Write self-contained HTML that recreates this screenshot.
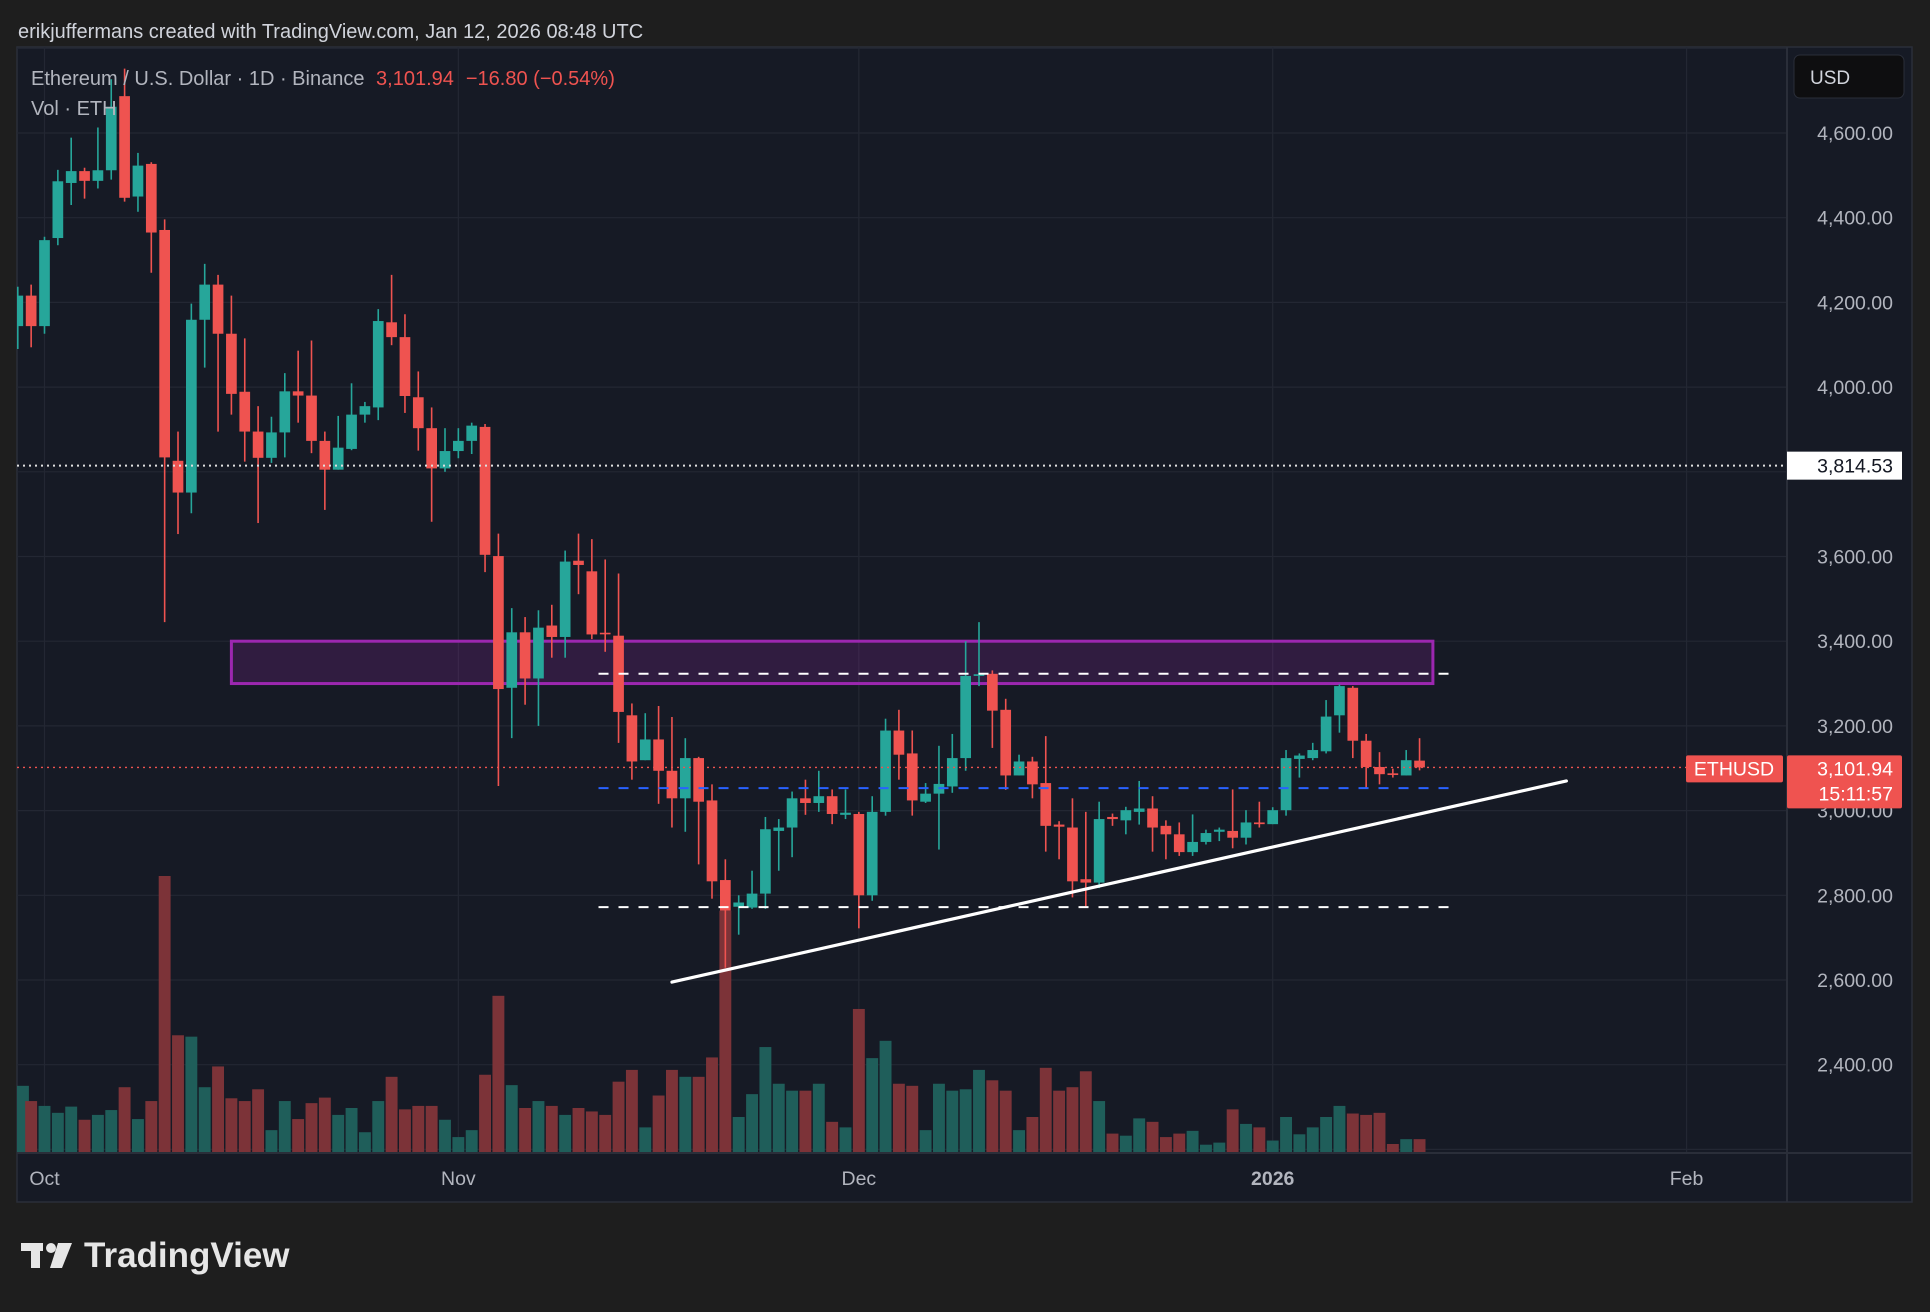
<!DOCTYPE html>
<html><head><meta charset="utf-8"><style>
html,body{margin:0;padding:0;background:#1e1e1e;}
body{width:1930px;height:1307px;overflow:hidden;font-family:"Liberation Sans",sans-serif;}
svg text{font-family:"Liberation Sans",sans-serif;}
</style></head><body>
<svg id="chart" width="1930" height="1307" xmlns="http://www.w3.org/2000/svg">
<rect x="0" y="0" width="1930" height="1307" fill="#1e1e1e"/>
<text x="18" y="38" font-size="20" fill="#d1d4dc">erikjuffermans created with TradingView.com, Jan 12, 2026 08:48 UTC</text>
<rect x="17" y="47" width="1895" height="1155" fill="#161a25" stroke="#2a2e39" stroke-width="1.5"/>
<g id="grid"></g>
<g id="vol"></g>
<g id="overlays-back"></g>
<g id="candles"></g>
<g id="overlays"></g>
<line x1="1787" y1="47" x2="1787" y2="1202" stroke="#2a2e39" stroke-width="2"/>
<line x1="17" y1="1153" x2="1912" y2="1153" stroke="#2a2e39" stroke-width="2"/>
<g id="yaxis"></g>
<g id="xaxis"></g>
<text x="31" y="85" font-size="20" fill="#b2b5be">Ethereum / U.S. Dollar · 1D · Binance <tspan fill="#ef5350" dx="6">3,101.94</tspan><tspan fill="#ef5350" dx="12">−16.80 (−0.54%)</tspan></text>
<text x="31" y="115" font-size="20" fill="#b2b5be">Vol · ETH</text>
<rect x="1794" y="55" width="110" height="43" rx="6" fill="#0e0e10" stroke="#2a2e39"/>
<text x="1810" y="84" font-size="19" fill="#d1d4dc">USD</text>
<g>
<rect x="21" y="1243" width="22" height="8" fill="#e6e6e6"/>
<rect x="31" y="1243" width="9" height="25" fill="#e6e6e6"/>
<circle cx="51" cy="1248" r="5" fill="#e6e6e6"/>
<polygon points="58,1243 72,1243 62,1268 50,1268" fill="#e6e6e6"/>
<text x="84" y="1267" font-size="35" font-weight="bold" fill="#e6e6e6">TradingView</text>
</g>
</svg>
<script>
const opens=[4144,4216,4144,4352,4482,4510,4487,4512,4687,4450,4527,4371,3826,3751,4159,4242,4126,3989,3895,3833,3893,3990,3980,3873,3805,3854,3935,3952,4153,4118,3976,3903,3808,3849,3873,3906,3601,3290,3421,3312,3437,3410,3590,3565,3420,3413,3225,3119,3168,3094,3029,3124,3024,2836,2773,2771,2804,2952,2960,3029,3018,3034,2990,2992,2800,2997,3189,3135,3021,3040,3057,3124,3318,3323,3238,3083,3116,3065,2967,2960,2838,2830,2985,2977,2997,3005,2964,2944,2902,2926,2950,2952,2936,2972,2968,3001,3122,3124,3140,3225,3290,3165,3103,3088,3083,3118];
const highs=[4237,4242,4355,4513,4589,4518,4613,4727,4752,4553,4531,4396,3895,4197,4291,4265,4216,4115,3955,3930,4033,4086,4110,3895,3932,4009,3965,4184,4265,4172,4037,3952,3903,3903,3916,3913,3654,3478,3457,3473,3486,3614,3654,3641,3593,3560,3253,3230,3247,3221,3171,3127,3062,2885,2800,2858,2985,2980,3045,3073,3094,3050,3050,2997,3034,3217,3238,3189,3065,3153,3181,3400,3445,3331,3264,3132,3127,3176,2975,3029,2997,3021,2993,3009,3070,3034,2977,2972,2991,2955,2960,3050,3001,3021,3008,3143,3135,3160,3261,3298,3294,3181,3138,3099,3143,3171];
const lows=[4090,4094,4126,4335,4430,4445,4469,4490,4438,4414,4270,3445,3653,3702,4046,3895,3935,3824,3679,3821,3834,3916,3844,3710,3805,3851,3916,3922,4099,3939,3850,3682,3800,3832,3842,3563,3058,3171,3250,3200,3361,3361,3511,3405,3375,3160,3073,3119,3016,2960,2950,2873,2792,2629,2707,2768,2768,2858,2890,2990,2997,2968,2980,2722,2787,2988,3073,2988,3018,2908,3042,3094,3294,3148,3049,3083,3029,2903,2885,2795,2774,2817,2964,2944,2967,2903,2885,2893,2893,2920,2928,2911,2920,2960,2968,2988,3078,3119,3135,3184,3124,3054,3062,3078,3083,3095];
const closes=[4216,4144,4347,4486,4510,4487,4512,4662,4447,4523,4365,3834,3751,4159,4242,4126,3984,3895,3833,3893,3990,3980,3873,3805,3857,3935,3955,4156,4118,3979,3903,3808,3849,3873,3909,3604,3287,3421,3312,3432,3410,3588,3580,3416,3418,3233,3116,3168,3094,3029,3124,3021,2833,2764,2783,2804,2956,2960,3029,3018,3034,2992,2995,2800,2997,3189,3132,3024,3040,3063,3124,3318,3322,3236,3083,3116,3062,2964,2962,2833,2830,2980,2980,3001,3005,2960,2944,2902,2926,2947,2955,2936,2972,2968,3001,3124,3130,3143,3222,3294,3165,3103,3086,3084,3119,3102];
const volumes=[97,75,68,58,67,48,55,62,95,49,75,400,170,168,95,125,79,75,92,33,75,49,72,80,55,65,30,75,110,63,68,68,48,23,33,113,227,98,65,75,68,55,65,60,55,103,120,37,83,120,110,110,138,350,52,85,153,100,90,90,100,45,37,208,137,162,100,97,33,100,90,92,120,105,90,33,52,123,90,95,118,75,28,25,50,45,23,28,32,12,15,63,42,37,18,52,27,37,52,68,57,55,58,13,20,20];
const priceTicks=[4600,4400,4200,4000,3600,3400,3200,3000,2800,2600,2400];
const priceTickLabels=["4,600.00","4,400.00","4,200.00","4,000.00","3,600.00","3,400.00","3,200.00","3,000.00","2,800.00","2,600.00","2,400.00"];
const monthDays=[0,31,61,92,123];
const monthLabels=["Oct","Nov","Dec","2026","Feb"];
const firstDay=-2;
const lastPrice=3101.94, markedPrice=3814.53;
const zoneTop=3400, zoneBottom=3300, zoneStartDay=14, zoneEndDay=104;
const levelUpper=3323, levelMid=3053, levelLower=2772, levelStartDay=41.5, levelEndDay=105.8;
const trendStart=[47,2595], trendEnd=[114,3070];

const NS="http://www.w3.org/2000/svg";
const X=d=>44.5+13.35*d;
const Y=p=>133+(4600-p)/200*84.7;
const VY=v=>1153-v*0.6925;
const L=17,R=1787;
function mk(tag,attrs,parent){const e=document.createElementNS(NS,tag);for(const k in attrs)e.setAttribute(k,attrs[k]);parent.appendChild(e);return e;}
const grid=document.getElementById('grid'),vol=document.getElementById('vol'),cg=document.getElementById('candles'),ov=document.getElementById('overlays'),ob=document.getElementById('overlays-back'),ya=document.getElementById('yaxis'),xa=document.getElementById('xaxis');
for(let p=4800;p>=2200;p-=200){const y=Y(p);if(y<47||y>1153)continue;const g=mk('line',{x1:L,x2:R,y1:y,y2:y,stroke:'#232733','stroke-width':1.2},grid);}
monthDays.forEach(d=>{const g=mk('line',{x1:X(d),x2:X(d),y1:47,y2:1153,stroke:'#232733','stroke-width':1.2},grid);});
priceTicks.forEach((p,i)=>{const t=mk('text',{x:1893,y:Y(p)+7,'font-size':19.5,fill:'#b2b5be','text-anchor':'end'},ya);t.textContent=priceTickLabels[i];});
monthDays.forEach((d,i)=>{const t=mk('text',{x:X(d),y:1185,'font-size':19.5,fill:'#b2b5be','text-anchor':'middle','font-weight':monthLabels[i]==='2026'?'bold':'normal'},xa);t.textContent=monthLabels[i];});
const W=10.7;
volumes.forEach((v,i)=>{const x=X(firstDay+i);const up=closes[i]>=opens[i];const y=VY(v);const r=mk('rect',{x:Math.max(L,x-W/2-0.6),y:y,width:W+1.2,height:1153-y,fill:up?'#1f5e5a':'#7c3338'},vol);});
const z=mk('rect',{x:X(zoneStartDay),y:Y(zoneTop),width:X(zoneEndDay)-X(zoneStartDay),height:Y(zoneBottom)-Y(zoneTop),fill:'rgba(156,39,176,0.2)',stroke:'#9c27b0','stroke-width':3},ob);

opens.forEach((o,i)=>{const c=closes[i],x=X(firstDay+i),up=c>=o,col=up?'#26a69a':'#ef5350';
const w=mk('line',{x1:x,x2:x,y1:Y(highs[i]),y2:Y(lows[i]),stroke:col,'stroke-width':1.6},cg);
const top=Y(Math.max(o,c)),bot=Y(Math.min(o,c));const b=mk('rect',{x:Math.max(L,x-W/2),y:top,width:x-W/2<L?W-(L-(x-W/2)):W,height:Math.max(1.6,bot-top),fill:col},cg);});
function hline(p,d1,d2,col,dash,name,w){const l=mk('line',{x1:d1===null?L:X(d1),x2:d2===null?R:X(d2),y1:Y(p),y2:Y(p),stroke:col,'stroke-width':w||2,'stroke-dasharray':dash},ov);}
hline(markedPrice,null,null,'#e0e0e0','2 4','marked-price-line',2);
hline(lastPrice,null,null,'#ef5350','2 4','last-price-line',1.3);
hline(levelUpper,levelStartDay,levelEndDay,'#ffffff','10 10','upper-dashed-level',2);
hline(levelMid,levelStartDay,levelEndDay,'#2962ff','10 10','mid-blue-level',2);
hline(levelLower,levelStartDay,levelEndDay,'#ffffff','10 10','lower-dashed-level',2);
const tl=mk('line',{x1:X(trendStart[0]),y1:Y(trendStart[1]),x2:X(trendEnd[0]),y2:Y(trendEnd[1]),stroke:'#ffffff','stroke-width':3.2,'stroke-linecap':'round'},ov);

const ly=Y(markedPrice);
const mb=mk('rect',{x:1787,y:ly-14,width:115,height:28,fill:'#ffffff'},ya);
const mt=mk('text',{x:1893,y:ly+7,'font-size':19.5,fill:'#131722','text-anchor':'end'},ya);mt.textContent='3,814.53';
const py=Y(lastPrice);
const sb=mk('rect',{x:1686,y:py-12,width:97,height:27,fill:'#ef5350',rx:2},ov);
const st=mk('text',{x:1734,y:py+8,'font-size':19.5,fill:'#ffffff','text-anchor':'middle'},ov);st.textContent='ETHUSD';
const pb=mk('rect',{x:1787,y:py-12,width:115,height:53,fill:'#ef5350',rx:2},ya);
const pt=mk('text',{x:1893,y:py+8,'font-size':19.5,fill:'#ffffff','text-anchor':'end'},ya);pt.textContent='3,101.94';
const ct=mk('text',{x:1893,y:py+33,'font-size':19.5,fill:'#ffffff','text-anchor':'end'},ya);ct.textContent='15:11:57';
</script>
</body></html>
